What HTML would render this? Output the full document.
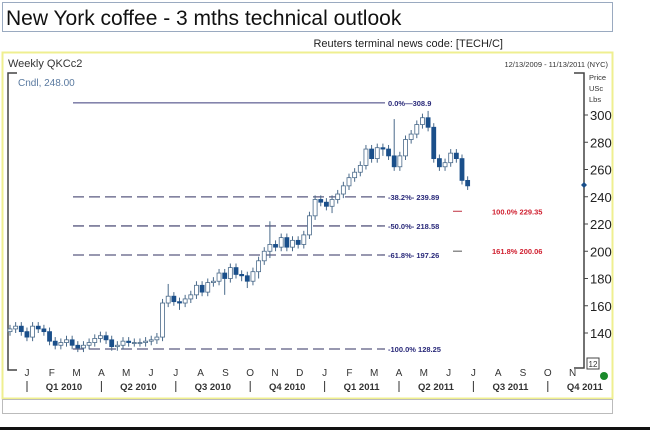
<!DOCTYPE html>
<html><head><meta charset="utf-8"><style>
body{margin:0;background:#fff;width:650px;height:430px;overflow:hidden;font-family:"Liberation Sans",Arial,sans-serif}
</style></head><body>
<svg width="650" height="430" xmlns="http://www.w3.org/2000/svg" font-family="Liberation Sans, Arial, sans-serif">
<rect x="0" y="0" width="650" height="430" fill="#fff"/>
<rect x="2.5" y="2.5" width="610" height="29" fill="#fff" stroke="#9aaac0"/>
<text x="6" y="25" font-size="21" fill="#111">New York coffee - 3 mths technical outlook</text>
<text x="503" y="47" font-size="11" fill="#222" text-anchor="end">Reuters terminal news code:  [TECH/C]</text>
<rect x="2.5" y="52.5" width="610" height="346" fill="#fff" stroke="#efef90" stroke-width="2"/>
<rect x="2.5" y="399.5" width="610" height="14" fill="#fff" stroke="#bbb"/>
<rect x="0" y="427" width="650" height="3" fill="#111"/>
<text x="8" y="67" font-size="11" fill="#333">Weekly QKCc2</text>
<text x="608" y="67" font-size="7.5" fill="#333" text-anchor="end">12/13/2009 - 11/13/2011 (NYC)</text>
<text x="18" y="86" font-size="10" fill="#5a7aa0">Cndl, 248.00</text>
<path d="M17 73 H8 V370 H17" fill="none" stroke="#444" stroke-width="1.5"/>
<path d="M574 73 H584 V368 H574" fill="none" stroke="#444" stroke-width="1.5"/>
<text x="589" y="80" font-size="7.5" fill="#333">Price</text>
<text x="589" y="91" font-size="7.5" fill="#333">USc</text>
<text x="589" y="102" font-size="7.5" fill="#333">Lbs</text>
<rect x="587" y="358" width="12" height="11" fill="#fff" stroke="#444"/>
<text x="593" y="367" font-size="8" text-anchor="middle" fill="#333">12</text>
<path d="M584 182 l3 3 l-3 3 l-3 -3z" fill="#1a4f8a"/>
<circle cx="604" cy="376" r="4" fill="#1a8a2a"/>
<g id="ticks"></g><g id="fib"></g><g id="candles"></g><g id="xaxis"></g>
</svg>
<script>
const yTicks=[140,160,180,200,220,240,260,280,300];
const opens=[141,143,145,141,137,145,143,141,134,131,133,135,131,129,131,133,136,138,135,130,131,134,133,133,133,134,135,137,162,167,163,162,165,168,175,170,177,178,184,180,188,183,182,178,185,193,200,205,203,210,203,208,205,212,226,238,236,233,238,242,248,254,258,263,275,268,276,275,270,262,270,282,286,293,298,291,268,262,265,272,268,252];
const closes=[143,145,141,137,145,143,141,134,131,133,135,131,129,131,133,136,138,135,130,131,134,133,133,133,134,135,137,162,167,163,162,165,168,175,170,177,178,184,180,188,183,182,178,185,193,200,205,203,210,203,208,205,212,226,238,236,233,238,242,248,254,258,263,275,268,276,275,270,262,270,282,286,293,298,291,268,262,265,272,268,252,248];
const highs=[146,148,148,144,148,148,146,144,137,136,138,138,134,134,136,139,141,141,138,134,137,137,136,136,137,138,140,165,176,170,166,168,171,178,178,180,181,187,187,191,191,186,185,188,196,203,222,208,213,213,211,211,215,229,241,241,239,241,245,251,257,261,266,278,278,279,279,278,297,273,285,289,296,301,303,294,271,268,275,275,271,255];
const lows=[138,140,138,134,134,140,138,131,128,128,130,128,126,126,128,130,133,132,127,127,128,130,130,130,130,131,132,134,159,160,157,159,162,165,167,167,174,175,168,177,180,178,173,175,180,190,195,200,200,200,200,202,202,209,223,233,230,228,235,239,245,251,255,260,265,265,270,267,259,259,267,279,283,290,288,265,259,259,262,265,249,245];
const fibLevels=[308.9,239.89,218.58,197.26,128.25];
const fibLabels=["0.0%\u2014308.9","-38.2%- 239.89","-50.0%- 218.58","-61.8%- 197.26","-100.0% 128.25"];
const projLevels=[229.35,200.06];
const projLabels=["100.0% 229.35","161.8% 200.06"];
const months=["J","F","M","A","M","J","J","A","S","O","N","D","J","F","M","A","M","J","J","A","S","O","N"];
const quarters=["Q1 2010","Q2 2010","Q3 2010","Q4 2010","Q1 2011","Q2 2011","Q3 2011","Q4 2011"];
const NS="http://www.w3.org/2000/svg";
const y=v=>115+(300-v)*1.3625;
const x=i=>10+i*5.65;
const mx=i=>27+i*24.8;
function mk(tag,attrs,parent,txt){const e=document.createElementNS(NS,tag);for(const k in attrs)e.setAttribute(k,attrs[k]);if(txt!==undefined)e.textContent=txt;document.getElementById(parent).appendChild(e);return e;}
yTicks.forEach(v=>{
 const l=mk('line',{x1:584,x2:588,y1:y(v),y2:y(v),stroke:'#444'},'ticks');
 
 
 const t=mk('text',{x:590,y:y(v)+5,'font-size':13,fill:'#222'},'ticks',String(v));
 
 
});
fibLevels.forEach((v,i)=>{
 const l=mk('line',{x1:73,x2:385,y1:y(v),y2:y(v),stroke:i==0?'#3a3a7a':'#5a5a80','stroke-width':i==0?1:1.3,'stroke-dasharray':i==0?'none':'11,5'},'fib');
 
 
 const t=mk('text',{x:388,y:y(v)+3,'font-size':7.5,'font-weight':'bold',fill:'#2a2a7a'},'fib',fibLabels[i]);
 
 
});
projLevels.forEach((v,i)=>{
 const l=mk('line',{x1:453,x2:462,y1:y(v),y2:y(v),stroke:i==0?'#c03040':'#555'},'fib');
 
 
 const t=mk('text',{x:492,y:y(v)+3,'font-size':7.5,'font-weight':'bold',fill:'#d02030'},'fib',projLabels[i]);
 
 
});
closes.forEach((c,i)=>{
 const o=opens[i],cx=x(i),up=c>=o;
 const w=mk('line',{x1:cx,x2:cx,y1:y(highs[i]),y2:y(lows[i]),stroke:'#4a6a8a','stroke-width':1},'candles');
 
 
 const top=y(Math.max(o,c)),h=Math.max(1,Math.abs(y(o)-y(c)));
 const b=mk('rect',{x:cx-2,y:top,width:4,height:h,fill:up?'#fff':'#1a4f8a',stroke:up?'#4a6a8a':'#1a4f8a','stroke-width':0.8},'candles');
 
 
});
months.forEach((m,i)=>{
 const t=mk('text',{x:mx(i),y:376,'font-size':10,'text-anchor':'middle',fill:'#333'},'xaxis',m);
 
 
});
quarters.forEach((q,i)=>{
 const t=mk('text',{x:mx(i*3)+37,y:390,'font-size':9.5,'font-weight':'bold','text-anchor':'middle',fill:'#333'},'xaxis',q);
 
 
 const s=mk('line',{x1:mx(i*3),x2:mx(i*3),y1:381,y2:392,stroke:'#333'},'xaxis');
 
 
});
</script>
</body></html>
